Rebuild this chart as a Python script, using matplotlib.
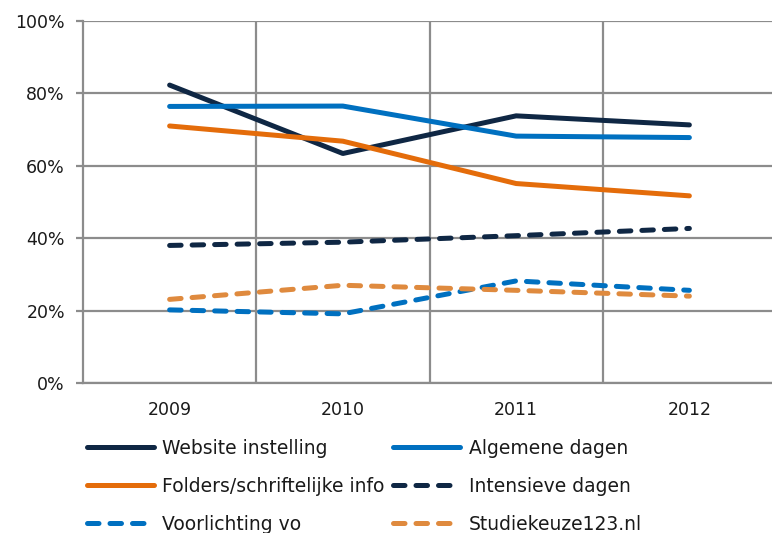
import matplotlib
matplotlib.use("Agg")
import matplotlib.pyplot as plt
from matplotlib.ticker import FixedLocator

years = ["2009", "2010", "2011", "2012"]
website = [82.3, 63.4, 73.8, 71.3]
algemene = [76.4, 76.5, 68.2, 67.8]
folders = [71.0, 66.8, 55.1, 51.7]
intensieve = [38.0, 38.9, 40.7, 42.7]
voorlichting = [20.2, 19.1, 28.2, 25.6]
studiekeuze = [23.1, 27.0, 25.6, 24.0]
yticks = [0, 20, 40, 60, 80, 100]

navy = "#0F2744"
blue = "#0070C0"
orange = "#E46C0A"
lorange = "#DF8A3E"
grid = "#8C8C8C"

plt.rcParams['font.family'] = ['DejaVu Sans']
fig = plt.figure(figsize=(7.72, 5.33), dpi=100)
ax = fig.add_axes([83/772, 150/533, 693/772, 362/533])

x = list(range(1, len(years) + 1))
lw = 3.6
dash = (2.3, 2.2)
series = [
    ("Website instelling", website, navy, None),
    ("Algemene dagen", algemene, blue, None),
    ("Folders/schriftelijke info", folders, orange, None),
    ("Intensieve dagen", intensieve, navy, dash),
    ("Voorlichting vo", voorlichting, blue, dash),
    ("Studiekeuze123.nl", studiekeuze, lorange, dash),
]
lines = {}
for label, vals, col, ds in series:
    kw = dict(color=col, lw=lw, label=label, solid_capstyle='round', zorder=3)
    if ds is not None:
        kw.update(dashes=ds, dash_capstyle='round')
    lines[label], = ax.plot(x, vals, **kw)

ax.set_xlim(0.5, 4.5)
ax.set_ylim(0, 100)
ax.set_yticks(yticks)
ax.set_yticklabels([f"{v}%" for v in yticks])
ax.set_xticks(x)
ax.set_xticklabels(years)
ax.xaxis.set_minor_locator(FixedLocator([1.5, 2.5, 3.5]))
ax.grid(axis='y', which='major', color=grid, lw=1.6, zorder=1)
ax.grid(axis='x', which='minor', color=grid, lw=1.6, zorder=1)
ax.tick_params(axis='y', which='major', length=5, width=1.6, color=grid, pad=8, labelsize=12.5)
ax.tick_params(axis='x', which='major', length=0, pad=13, labelsize=12.5)
ax.tick_params(axis='x', which='minor', length=0)
for s in ['top', 'right']:
    ax.spines[s].set_visible(False)
for s in ['left', 'bottom']:
    ax.spines[s].set_color(grid)
    ax.spines[s].set_linewidth(1.6)
for lab in ax.get_yticklabels() + ax.get_xticklabels():
    lab.set_color("#1a1a1a")

# row-major legend order (matplotlib fills columns first)
order = [series[i][0] for i in (0, 2, 4, 1, 3, 5)]
leg = fig.legend([lines[o] for o in order], order, loc='upper left',
                 bbox_to_anchor=(87/772, 1 - 439/533),
                 ncol=2, frameon=False, fontsize=13.5, handlelength=3.55,
                 handletextpad=0.47, columnspacing=0.45, labelspacing=1.0,
                 borderaxespad=0, borderpad=0)
for t in leg.get_texts():
    t.set_color("#1a1a1a")

fig.savefig("out.png", dpi=100)
